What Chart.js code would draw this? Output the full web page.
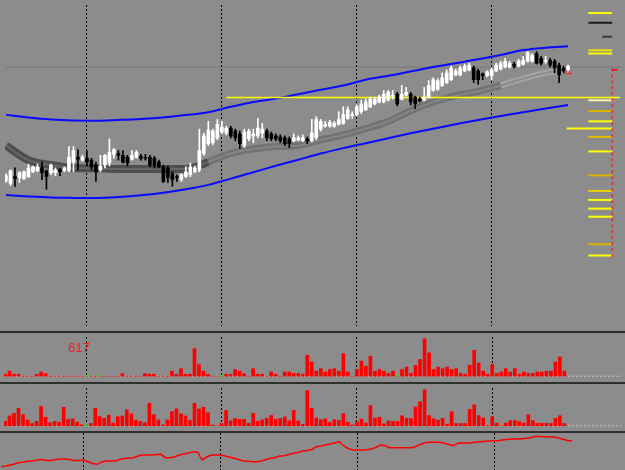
<!DOCTYPE html>
<html>
<head>
<meta charset="utf-8">
<script src="https://cdn.jsdelivr.net/npm/chart.js@4.4.1/dist/chart.umd.min.js"></script>
<style>
html, body { margin: 0; padding: 0; background: #8c8c8c; }
#wrap { position: relative; width: 625px; height: 470px; overflow: hidden; background: #8c8c8c; }
canvas { position: absolute; left: 0; }
.sep { position: absolute; left: 0; width: 625px; height: 2px; background: #2f2f2f; }
#lbl { position: absolute; left: 68px; top: 341px; font: 13px "Liberation Sans", Arial, sans-serif; line-height: 13px; color: #ff1a1a; }
</style>
</head>
<body>
<div id="wrap">
  <canvas id="main" width="625" height="331" style="top:0"></canvas>
  <div class="sep" style="top:331px"></div>
  <canvas id="h1" width="625" height="48" style="top:333px"></canvas>
  <div class="sep" style="top:382px"></div>
  <canvas id="h2" width="625" height="47" style="top:384px"></canvas>
  <div class="sep" style="top:431px"></div>
  <canvas id="osc" width="625" height="37" style="top:433px"></canvas>
  <div id="lbl">617</div>
</div>
<script>
// candles, one per bar (price in points)
var opens = [149,146,153,152,151,153,158,159,162,159,
  157,157,160,159,159,168,173,170,172,170,
  165,160,165,167,176,177,175,173,171,173,
  174,173,173,172,168,163,162,156,153,150,
  153,155,158,160,177,187,188,193,199,198,
  203,200,197,185,192,195,195,198,200,197,
  195,194,193,192,190,191,190,192,190,193,
  202,205,205,205,207,208,213,216,217,220,
  222,225,228,230,230,232,236,238,233,237,
  238,235,233,232,235,242,243,247,250,253,
  258,258,262,263,265,262,259,257,257,262,
  264,266,266,269,267,269,272,272,280,275,
  272,273,272,268,265,263];
var highs = [156,160,162,158,159,166,164,166,168,160,
  166,162,161,163,184,184,181,175,180,172,
  168,175,176,192,182,180,180,175,180,180,
  176,176,175,174,170,165,164,158,155,156,
  163,167,164,202,198,210,202,212,210,205,
  205,202,200,202,202,202,213,208,202,199,
  197,196,195,194,197,195,196,194,212,215,
  212,210,211,210,220,225,225,220,227,232,
  233,235,235,237,242,242,242,240,247,245,
  240,236,235,245,252,255,254,260,263,267,
  264,267,269,270,267,264,260,262,265,270,
  272,275,272,271,274,277,282,280,282,277,
  277,275,274,270,267,268];
var lows = [147,144,143,147,150,152,157,158,150,140,
  155,154,154,158,158,158,160,169,164,160,
  148,158,162,164,172,170,167,164,170,172,
  170,170,163,162,162,147,147,143,148,148,
  152,153,157,158,175,185,186,191,197,196,
  193,190,182,183,190,188,193,193,190,190,
  190,188,185,183,189,190,189,187,189,191,
  200,204,204,204,206,207,212,213,216,218,
  221,224,227,229,229,231,233,226,232,236,
  227,223,230,231,234,241,242,246,249,252,
  257,257,261,262,250,248,253,256,253,261,
  263,265,265,265,266,268,271,271,269,268,
  270,266,260,250,260,262];
var closes = [154,159,151,157,158,162,163,163,157,153,
  165,160,158,162,173,180,171,173,168,163,
  158,164,175,178,181,175,168,167,175,178,
  172,172,165,165,163,148,152,150,152,155,
  158,163,162,180,195,201,200,207,204,203,
  195,193,187,199,200,197,203,202,193,192,
  192,190,187,187,193,193,193,190,198,212,
  210,207,209,208,212,217,222,217,225,228,
  230,233,233,235,238,240,237,228,238,240,
  230,228,231,235,247,253,252,255,260,265,
  262,265,267,268,253,253,257,261,263,268,
  270,272,270,267,272,273,281,278,270,270,
  273,268,265,258,262,267];

// envelope and ribbon, sampled every 5 bars
var bandIdx = [0,5,10,15,20,25,30,35,40,45,50,55,60,65,70,75,80,85,90,95,100,105,110,115,120,125];
var bandUpper = [216.7,214,212,211,210.7,211.5,212.5,214,216.5,219.5,225,230,233.5,238,242.5,247,253,257,261.5,266,270,274,278.5,283.5,286,287.5];
var bandLower = [134,132.6,131.5,131.1,131,132,133.8,136.5,140,144.5,151,157.5,164.2,170.5,176.8,182.4,187.5,192.6,197.7,202.4,207,211.5,215.6,219.4,223.2,227];
var ribbon = [185,170,165,162,161.5,161,161,161,161,168,177,181.5,184,185,191,196,202.5,210,221,230,236.5,241,247,254,260,263];

var resistance = 234.5;
var bidPrice = 266;
var levels = [321.7,311.7,297.3,283.3,280,231.7,220.7,210,202.7,194,179,154.3,138.3,129,120,111.7,83.3,71.7];

// lower panels
var hist1 = [2.3,6,2.3,2.3,0,0,0,2.3,5,3,
  0,0,0,0,0,0,0,0,0,0,
  0,0,0,0,0,0,3,0,0,0,
  0,3,2.3,2.3,0,0,0,6,2.3,9,
  2.3,2.3,33,14,6,2.3,0,0,0,2.3,
  2.3,8,6,3,0,9,2.3,2.3,0,5,
  2.3,0,5,5,3.3,3.3,2.3,25,17,6,
  9,5,8,9,6,27,5,0,8,18,
  12,24,6,8,6,3.3,6,0,8,11,
  3.3,13,20,45,28,8,11,9,11,8,
  9,3.3,2.3,13,31,16,6,2.3,14,3.3,
  5,9,5,9,2.3,5,3.3,3.3,5,5,
  6,6,17,23,6,null];
var hist2 = [5.3,12,15,21,13.3,7,2.7,5.3,23.3,10.3,
  3.7,5.3,4.3,22.3,7.7,8.3,4.3,1,0,2.7,
  21,11,9,12.7,3.3,11,11.7,19.3,14.3,6.7,
  5,3.7,27,13.3,7,1,7,17,20.3,14.3,
  11.7,6.3,27,20.3,22.3,15.7,1,0,2.7,18.3,
  6,8.7,7.7,7.7,3,15,5.3,7,9,12.3,
  7.7,8.7,10.7,6,18.3,5.7,1.7,42.3,21.3,9.3,
  7.3,8.3,4,7.3,6.3,14.7,4.3,1,4.7,8,
  3.3,24.3,9.3,10.3,2.3,6,5.3,5.3,12,9,
  8.7,22.7,29,43.3,12.3,8.3,6.7,9,2,17,
  2.7,2.7,2.7,19.7,25.3,12.3,9.3,0,10.7,3.3,
  0,3.3,6.3,6.3,5,3.3,13.3,6.3,3,3,
  3,3,9,12,2.7,null];
var hist1Marks = [18,21,48,87];
var hist2Marks = [18];
var osc = [3.3,4,5,6,7.5,8,8.8,9,10,10.5,
  9.5,9.5,10.5,11,11,10.5,9.5,9.5,10,8.5,
  6.5,5.7,8,9,9,9,10.5,11.5,12,12.3,
  14,15,15,15,15.5,15.7,12.3,12.3,13.3,15,
  16,17,18,18,10,13,15,15,15,14,
  13,11.7,10.5,9,8.7,8.3,8.3,9,10.5,11.7,
  12.5,14,14.3,15.5,16.7,17.5,19,19.5,20.5,23.3,
  24,25,26,27,28.3,24,21.5,20,20,20,
  20.3,21,22.5,25,24.5,22.3,22.3,22.3,22.3,22.3,
  22.3,24,26,27.5,27.7,27.7,27.7,26.7,25.5,24.3,
  26.7,27,27,27.3,28,28.3,28.7,29,29,29.5,
  30.3,30.7,31,31,31.3,31.7,32.5,33.7,33.5,33.3,
  33,33,32,30.7,29.5,29];

var separators = [18,48,78,108];

// ---- styles / layout ----
var X_MIN = -0.22, X_MAX = 136.54;
var levelColors = ['#ffff00','#1a1a1a','#3c3c3c','#f0e000','#ffff00','#f4f4b0','#d8b400','#ffff00','#ffff00','#e0bc00',
  '#ffff00','#d8b400','#e8d400','#ffff00','#ffff00','#ffff00','#d8b400','#ffff00'];

function xAxis() {
  return {
    type: 'linear', min: X_MIN, max: X_MAX, offset: false,
    afterBuildTicks: function (s) { s.ticks = separators.map(function (v) { return { value: v }; }); },
    ticks: { display: false },
    grid: { color: '#000000', lineWidth: 1, drawTicks: false, offset: false },
    border: { display: false, dash: [2, 2] }
  };
}
function baseOptions(ymin, ymax) {
  return {
    responsive: false, animation: false, events: [],
    layout: { padding: 0 },
    plugins: { legend: { display: false }, tooltip: { enabled: false } },
    scales: { x: xAxis(), y: { display: false, min: ymin, max: ymax } }
  };
}
function hline(y, x0, x1, color, width, order, dash) {
  return { type: 'line', data: [{ x: x0, y: y }, { x: x1, y: y }], borderColor: color, borderWidth: width,
    borderDash: dash || [], pointRadius: 0, order: order };
}
function bandPts(arr, from, to) {
  return bandIdx.map(function (k, i) { return { x: k, y: arr[i] }; })
    .filter(function (p) { return p.x >= from && p.x <= to; });
}
function curve(pts, color, width, order) {
  return { type: 'line', data: pts, borderColor: color, borderWidth: width, pointRadius: 0,
    cubicInterpolationMode: 'monotone', order: order };
}

var idx = opens.map(function (_, i) { return i; });
var candleColor = idx.map(function (i) { return closes[i] >= opens[i] ? '#ffffff' : '#000000'; });

var mainSets = [
  { type: 'bar', data: idx.map(function (i) { return { x: i, y: [opens[i], closes[i]] }; }),
    backgroundColor: candleColor, barThickness: 3, minBarLength: 1, grouped: false, order: 0 },
  { type: 'bar', data: idx.map(function (i) { return { x: i, y: [lows[i], highs[i]] }; }),
    backgroundColor: candleColor, barThickness: 1, grouped: false, order: 1 },
  curve(bandPts(bandUpper, 0, 125), '#0a0aff', 2, 3),
  curve(bandPts(bandLower, 0, 125), '#0a0aff', 2, 3),
  curve(bandPts(ribbon, 0, 45), '#4e4e4e', 8, 6),
  curve(bandPts(ribbon, 0, 45), '#666666', 2, 5),
  curve(bandPts(ribbon, 45, 110), '#727272', 7, 6),
  curve(bandPts(ribbon, 45, 110), '#858585', 2, 5),
  curve(bandPts(ribbon, 110, 125), '#a4a4a4', 6, 6),
  curve(bandPts(ribbon, 110, 125), '#8c8c8c', 2, 5),
  hline(resistance, 49, X_MAX, '#ffff00', 1.5, 2),
  hline(bidPrice, X_MIN, X_MAX, '#777777', 1, 7),
  { type: 'line', data: [{ x: 134.8, y: 70 }, { x: 134.8, y: bidPrice }], borderColor: '#ff0000',
    borderWidth: 1, borderDash: [3, 3], pointRadius: 0, order: 2 },
  hline(263, 134.8, 136, '#ff0000', 1.5, 2),
  { type: 'line', data: [{ x: 125, y: 261 }], showLine: false, pointStyle: 'triangle', pointRadius: 3.5,
    pointBorderColor: '#ff2020', pointBackgroundColor: 'rgba(0,0,0,0)', pointBorderWidth: 1, order: 0 }
];
levels.forEach(function (v, i) {
  var start = i === 2 ? 132.6 : (i === 8 ? 124.7 : 129.5);
  mainSets.push(hline(v, start, 134.8, levelColors[i], 2, 2));
});

new Chart(document.getElementById('main'), {
  type: 'bar',
  data: { datasets: mainSets },
  options: baseOptions(-1, 330)
});

function histChart(id, values, marks, ymin, ymax) {
  new Chart(document.getElementById(id), {
    type: 'bar',
    data: { datasets: [
      { type: 'bar', data: values.map(function (v, i) { return { x: i, y: v }; }).filter(function (p) { return p.y !== null; }),
        backgroundColor: '#ff0000', barThickness: 3, grouped: false, order: 1 },
      hline(0, X_MIN, X_MAX, '#c4c4c4', 1, 2, [2, 2]),
      { type: 'line', data: marks.map(function (k) { return { x: k, y: 0.5 }; }), showLine: false,
        pointStyle: 'rect', pointRadius: 1.5, pointBackgroundColor: '#00ff00', pointBorderWidth: 0, order: 0 }
    ] },
    options: baseOptions(ymin, ymax)
  });
}
histChart('h1', hist1, hist1Marks, -1, 47);
histChart('h2', hist2, hist2Marks, -1.5, 45.5);

new Chart(document.getElementById('osc'), {
  type: 'line',
  data: { datasets: [
    { data: osc.map(function (v, i) { return { x: i, y: v }; }), borderColor: '#ff0000', borderWidth: 1.5, pointRadius: 0, tension: 0 }
  ] },
  options: baseOptions(0, 37)
});
</script>
</body>
</html>
